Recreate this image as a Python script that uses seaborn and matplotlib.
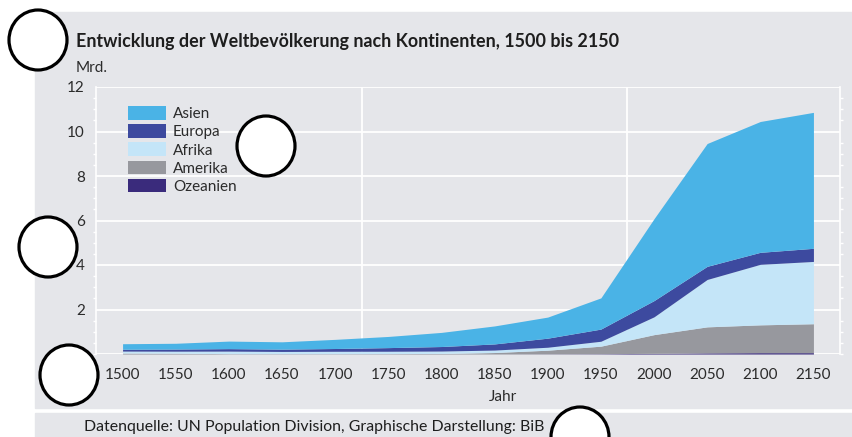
import matplotlib
matplotlib.use('Agg')
import matplotlib.pyplot as plt
from matplotlib.patches import Rectangle, Ellipse
import pandas as pd
import seaborn as sns

# Weltbevoelkerung nach Kontinenten in Mrd.
jahre = [1500, 1550, 1600, 1650, 1700, 1750, 1800, 1850, 1900, 1950, 2000, 2050, 2100, 2150]
ozeanien = [0.002, 0.002, 0.002, 0.002, 0.002, 0.002, 0.002, 0.002, 0.006, 0.013, 0.03, 0.05, 0.06, 0.06]
amerika = [0.042, 0.035, 0.014, 0.013, 0.013, 0.016, 0.024, 0.064, 0.165, 0.339, 0.84, 1.17, 1.25, 1.30]
afrika = [0.087, 0.09, 0.114, 0.10, 0.107, 0.106, 0.107, 0.111, 0.133, 0.221, 0.80, 2.13, 2.72, 2.80]
europa = [0.081, 0.095, 0.111, 0.103, 0.125, 0.163, 0.203, 0.276, 0.408, 0.547, 0.73, 0.59, 0.54, 0.59]
asien = [0.25, 0.26, 0.339, 0.33, 0.411, 0.502, 0.635, 0.809, 0.947, 1.402, 3.68, 5.52, 5.88, 6.11]

namen = ['Asien', 'Europa', 'Afrika', 'Amerika', 'Ozeanien']
farben = {'Asien': '#4ab3e6', 'Europa': '#3d4a9f', 'Afrika': '#c4e5f8',
          'Amerika': '#97989e', 'Ozeanien': '#3a2b7c'}

df = pd.DataFrame({'Jahr': jahre, 'Ozeanien': ozeanien, 'Amerika': amerika,
                   'Afrika': afrika, 'Europa': europa, 'Asien': asien})

BG = '#e5e6ea'
TXT = '#2b2b2b'
W, H = 852, 437

sns.set_theme(style='white')
plt.rcParams['font.family'] = ['Lato', 'DejaVu Sans']

fig = plt.figure(figsize=(W / 100, H / 100), dpi=100, facecolor='white')

# graue Flaechen
fig.add_artist(Rectangle((35 / W, 1 - 408 / H), (W - 35) / W, (408 - 12) / H,
                         transform=fig.transFigure, color=BG, zorder=0))
fig.add_artist(Rectangle((35 / W, 0), (W - 35) / W, (437 - 413) / H,
                         transform=fig.transFigure, color=BG, zorder=0))

ax = fig.add_axes([96 / W, 1 - 354 / H, (840 - 96) / W, (354 - 87) / H])
ax.set_facecolor(BG)

reihen = ['Ozeanien', 'Amerika', 'Afrika', 'Europa', 'Asien']
ax.stackplot(df['Jahr'], [df[r] for r in reihen],
             colors=[farben[r] for r in reihen], labels=reihen, lw=0, zorder=2)

ax.set_xlim(1475, 2175)
ax.set_ylim(0, 12)

# Gitter
for y in range(0, 13, 2):
    ax.axhline(y, color='white', lw=1.3, zorder=1)
for x in [1725, 1975]:
    ax.axvline(x, color='white', lw=1.3, zorder=1)

ax.set_xticks(jahre)
ax.set_xticks([j + 25 for j in jahre[:-1]], minor=True)
ax.set_yticks(range(2, 13, 2))
ax.set_yticks([v / 2 for v in range(0, 25)], minor=True)
ax.tick_params(axis='x', which='major', length=0, pad=10, labelsize=11, labelcolor=TXT)
ax.tick_params(axis='x', which='minor', length=6, width=1.2, color='white', direction='out')
ax.tick_params(axis='y', which='major', length=0, pad=8, labelsize=11, labelcolor=TXT)
ax.tick_params(axis='y', which='minor', length=2.5, width=1, color='white',
               direction='out', left=True, right=True)
ax.tick_params(axis='y', which='major', right=False)

for s in ['left', 'right']:
    ax.spines[s].set_color('white')
    ax.spines[s].set_linewidth(1.2)
for s in ['top', 'bottom']:
    ax.spines[s].set_visible(False)

handles, labels = ax.get_legend_handles_labels()
order = [labels.index(n) for n in namen]
ax.legend([handles[i] for i in order], [labels[i] for i in order],
          loc='upper left', bbox_to_anchor=(0.043, 0.928), frameon=False,
          fontsize=11, handlelength=2.5, handleheight=1.0, labelspacing=0.2,
          handletextpad=0.45, borderpad=0, borderaxespad=0, labelcolor=TXT)

fig.text(76 / W, 1 - 42 / H, 'Entwicklung der Weltbevölkerung nach Kontinenten, 1500 bis 2150',
         fontsize=12.9, fontweight='bold', color='#1e1e1e', va='center', ha='left')
fig.text(76 / W, 1 - 68 / H, 'Mrd.', fontsize=11, color=TXT, va='center', ha='left')
fig.text(503 / W, 1 - 397 / H, 'Jahr', fontsize=11, color=TXT, va='center', ha='center')
fig.text(84 / W, 1 - 427 / H, 'Datenquelle: UN Population Division, Graphische Darstellung: BiB',
         fontsize=11.4, color='#1e1e1e', va='center', ha='left')

# Markierungskreise
for cx, cy in [(38, 40), (266, 146), (48, 247), (69, 375), (580, 437)]:
    fig.add_artist(Ellipse((cx / W, 1 - cy / H), 58 / W, 60 / H, transform=fig.transFigure,
                           facecolor='white', edgecolor='black', lw=2.3, zorder=10))

fig.savefig('out.png', dpi=100, facecolor='white')
